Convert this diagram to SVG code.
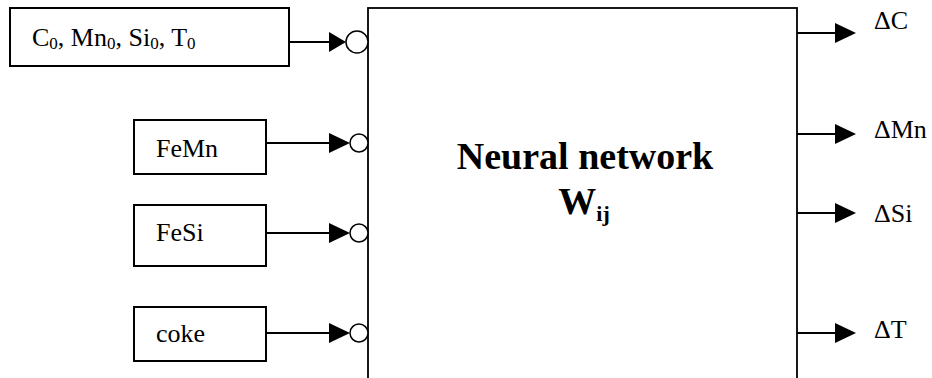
<svg xmlns="http://www.w3.org/2000/svg" width="932" height="378" viewBox="0 0 932 378">
<style>
.box{fill:#fff;stroke:#000;stroke-width:2}
.lbl{font-family:'Liberation Serif','Times New Roman',serif;font-size:26px;fill:#000}
.sub{font-size:17px}
.big{font-family:'Liberation Serif','Times New Roman',serif;font-size:38px;font-weight:bold;fill:#000}
.ln{stroke:#000;stroke-width:2;fill:none}
.hd{fill:#000}
.cir{fill:#fff;stroke:#000;stroke-width:1.5}
</style>
<g id="network">
<rect x="368" y="8" width="429" height="400" fill="#fff" stroke="#000" stroke-width="1.8"/>
<text class="big" x="585" y="169" text-anchor="middle">Neural network</text>
<text class="big" x="584" y="214" text-anchor="middle" font-size="36">W<tspan font-size="22" dy="7">ij</tspan></text>
</g>
<g id="in0">
<rect class="box" x="10" y="8" width="279" height="58"/>
<text class="lbl" x="32" y="46">C<tspan class="sub" dy="3">0</tspan><tspan dy="-3">, Mn</tspan><tspan class="sub" dy="3">0</tspan><tspan dy="-3">, Si</tspan><tspan class="sub" dy="3">0</tspan><tspan dy="-3">, T</tspan><tspan class="sub" dy="3">0</tspan></text>
</g>
<g id="femn">
<rect class="box" x="134" y="120" width="132" height="54"/>
<text class="lbl" x="156" y="157">FeMn</text>
</g>
<g id="fesi">
<rect class="box" x="134" y="205" width="132" height="61"/>
<text class="lbl" x="156" y="241">FeSi</text>
</g>
<g id="coke">
<rect class="box" x="134" y="307" width="132" height="54"/>
<text class="lbl" x="156" y="342">coke</text>
</g>
<g id="outC"><text class="lbl" x="874" y="29">ΔC</text></g>
<g id="outMn"><text class="lbl" x="874" y="138">ΔMn</text></g>
<g id="outSi"><text class="lbl" x="874" y="222">ΔSi</text></g>
<g id="outT"><text class="lbl" x="874" y="338">ΔT</text></g>
<g id="connectors">
<line class="ln" x1="289" y1="42" x2="330" y2="42"/>
<polygon class="hd" points="329,32 346,42 329,52"/>
<circle class="cir" cx="357" cy="42" r="11"/>
<line class="ln" x1="266" y1="143" x2="330" y2="143"/>
<polygon class="hd" points="329,133 350,143 329,153"/>
<circle class="cir" cx="359" cy="143" r="9"/>
<line class="ln" x1="266" y1="233" x2="330" y2="233"/>
<polygon class="hd" points="329,223 350,233 329,243"/>
<circle class="cir" cx="359" cy="233" r="9"/>
<line class="ln" x1="266" y1="333" x2="330" y2="333"/>
<polygon class="hd" points="329,323 350,333 329,343"/>
<circle class="cir" cx="359" cy="333" r="9"/>
<line class="ln" x1="797" y1="33" x2="836" y2="33"/>
<polygon class="hd" points="835,23 856,33 835,43"/>
<line class="ln" x1="797" y1="134" x2="836" y2="134"/>
<polygon class="hd" points="835,124 856,134 835,144"/>
<line class="ln" x1="797" y1="213" x2="836" y2="213"/>
<polygon class="hd" points="835,203 856,213 835,223"/>
<line class="ln" x1="797" y1="333" x2="836" y2="333"/>
<polygon class="hd" points="835,323 856,333 835,343"/>
</g>
</svg>
